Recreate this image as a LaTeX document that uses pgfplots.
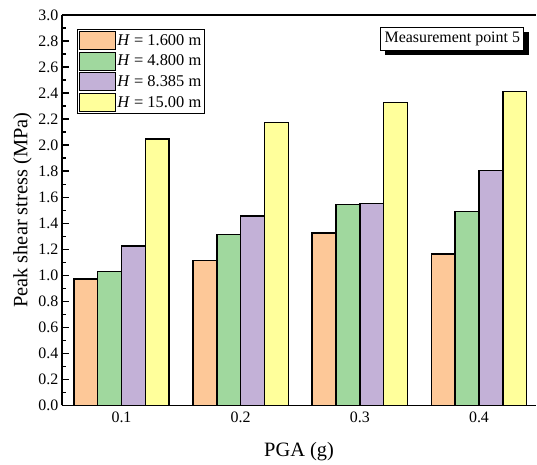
\documentclass[border=0pt]{standalone}
\usepackage{pgfplots}
\pgfplotsset{compat=1.18}
\usepackage{fontspec}
\setmainfont{Liberation Serif}

\definecolor{barA}{RGB}{253,200,152}
\definecolor{barB}{RGB}{160,216,158}
\definecolor{barC}{RGB}{195,177,215}
\definecolor{barD}{RGB}{255,255,155}

% Peak shear stress (MPa) per PGA level (x = 1..4 -> 0.1..0.4 g)
\pgfplotstableread{
x  h1    h2    h3    h4
1  0.970 1.028 1.225 2.048
2  1.113 1.315 1.456 2.174
3  1.325 1.545 1.553 2.327
4  1.164 1.490 1.806 2.412
}\stressdata

\begin{document}
\begin{tikzpicture}
\begin{axis}[
  scale only axis,
  width=475bp, height=391bp,
  xmin=0.5, xmax=4.48,
  ymin=0, ymax=3,
  axis x line*=box,
  axis y line*=left,
  axis line style={line width=1.6bp, black},
  ybar=0pt,
  bar width=0.2,
  xtick={1,2,3,4},
  xticklabels={0.1,0.2,0.3,0.4},
  x tick style={draw=none},
  ytick={0,0.2,...,3.01},
  minor y tick num=1,
  ytick pos=left,
  tick align=inside,
  major tick length=7bp,
  minor tick length=4bp,
  y tick style={line width=1.3bp, black},
  yticklabel style={/pgf/number format/.cd, fixed, fixed zerofill, precision=1},
  /pgf/number format/assume math mode=true,
  tick label style={font=\fontsize{16}{19}\selectfont},
  xticklabel style={yshift=-3bp},
  xlabel={PGA (g)},
  ylabel={Peak shear stress (MPa)},
  label style={font=\fontsize{20.5}{24}\selectfont},
  xlabel style={yshift=-13bp},
  legend image code/.code={%
    \draw[#1, draw=black, line width=1.2bp] (0bp,-9bp) rectangle (36bp,9bp);},
  legend style={
    at={(rel axis cs:0.0316,0.964)}, anchor=north west,
    draw=black, line width=0.8bp,
    font=\fontsize{16.5}{19}\selectfont,
    inner sep=1.5bp, row sep=1.5bp,
    legend cell align=left,
    nodes={inner sep=1.5bp},
  },
]
\addplot[draw=black, line width=1.4bp, fill=barA] table[x=x, y=h1] {\stressdata};
\addplot[draw=black, line width=1.4bp, fill=barB] table[x=x, y=h2] {\stressdata};
\addplot[draw=black, line width=1.4bp, fill=barC] table[x=x, y=h3] {\stressdata};
\addplot[draw=black, line width=1.4bp, fill=barD] table[x=x, y=h4] {\stressdata};
\legend{\textit{H} = 1.600 m, \textit{H} = 4.800 m, \textit{H} = 8.385 m, \textit{H} = 15.00 m}
\end{axis}
% annotation box with a solid offset shadow, placed relative to the axis corner
\coordinate (mpc) at ([xshift=-12bp,yshift=-12bp]current axis.north east);
\fill[black] ([xshift=-139bp,yshift=-5bp]mpc) rectangle ([xshift=5bp,yshift=-28bp]mpc);
\node[anchor=north east, draw=black, line width=1bp, fill=white,
      minimum width=143bp, minimum height=23bp, inner sep=0pt,
      font=\fontsize{16}{19}\selectfont] at (mpc) {Measurement point 5};
\path ([xshift=-62bp,yshift=-59bp]current axis.south west) rectangle ([yshift=15bp]current axis.north east);
\end{tikzpicture}
\end{document}
